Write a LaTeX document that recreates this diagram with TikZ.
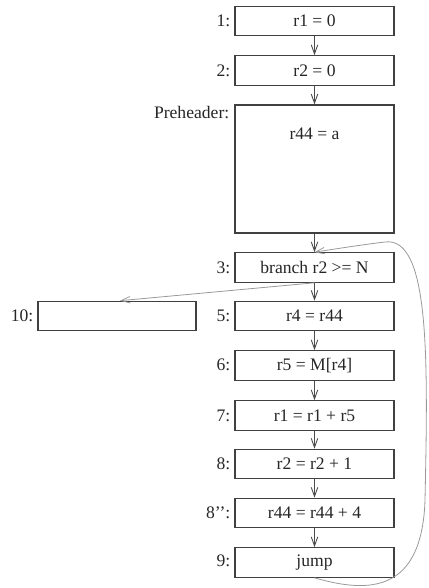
\documentclass[tikz,border=0pt]{standalone}
\usepackage{fontspec}
\setmainfont{Liberation Serif}
\usetikzlibrary{arrows.meta,calc}
\begin{document}
\begin{tikzpicture}[x=1pt,y=-1pt,
  every node/.style={font=\fontsize{17.6}{20}\selectfont, text=black!85},
  blk/.style={draw=black!75, line width=1.1pt, minimum width=159pt, minimum height=29.5pt, inner sep=0pt},
  lab/.style={inner sep=0pt, anchor=base east},
  flow/.style={draw=black!70, line width=0.9pt, -{Straight Barb[length=9pt,width=6.5pt]}},
  side/.style={draw=black!40, line width=0.8pt, -{Straight Barb[length=9pt,width=6.5pt]}}]
\useasboundingbox (0,0) rectangle (428,588);
\node[blk] (b1) at (314.5,21) {r1 = 0};
\node[blk] (b2) at (314.5,70.5) {r2 = 0};
\node[blk, minimum height=128pt] (pre) at (314.5,169) {};
\node[inner sep=0pt, anchor=base] (pretxt) at ($(pre.north)+(0,35)$) {r44 = a};
\node[blk] (b3) at (314.5,267.5) {branch r2 >= N};
\node[blk] (b5) at (314.5,316) {r4 = r44};
\node[blk, minimum width=158pt] (b10) at (117,316) {};
\node[blk] (b6) at (314.5,365.5) {r5 = M[r4]};
\node[blk] (b7) at (314.5,415.5) {r1 = r1 + r5};
\node[blk] (b8) at (314.5,464) {r2 = r2 + 1};
\node[blk] (b8b) at (314.5,513) {r44 = r44 + 4};
\node[blk] (b9) at (314.5,562.5) {jump};
\node[lab] (l1) at ($(b1.base west)+(-4,0)$) {1:};
\node[lab] (l2) at ($(b2.base west)+(-4,0)$) {2:};
\node[lab] (lpre) at ($(pre.north west)+(-5,14)$) {Preheader:};
\node[lab] (l3) at ($(b3.base west)+(-4,0)$) {3:};
\node[lab] (l5) at ($(b5.base west)+(-4,0)$) {5:};
\node[lab] (l10) at ($(b10.west)+(-4,5.5)$) {10:};
\node[lab] (l6) at ($(b6.base west)+(-4,0)$) {6:};
\node[lab] (l7) at ($(b7.base west)+(-4,0)$) {7:};
\node[lab] (l8) at ($(b8.base west)+(-4,0)$) {8:};
\node[lab] (l8b) at ($(b8b.base west)+(-4,0)$) {8’’:};
\node[lab] (l9) at ($(b9.base west)+(-4,0)$) {9:};
\draw[flow] (b1) -- (b2);
\draw[flow] (b2) -- (pre);
\draw[flow] (pre) -- (b3);
\draw[flow] (b3) -- (b5);
\draw[flow] (b5) -- (b6);
\draw[flow] (b6) -- (b7);
\draw[flow] (b7) -- (b8);
\draw[flow] (b8) -- (b8b);
\draw[flow] (b8b) -- (b9);
\draw[side] (b3.south) -- ($(b10.north)+(3,0)$);
\draw[side] (b9.south) .. controls (370,594) and (422,592) .. (425,500)
  .. controls (428,360) and (430,236) .. (385,242)
  .. controls (360,245) and (335,249) .. (b3.north);
\end{tikzpicture}
\end{document}
